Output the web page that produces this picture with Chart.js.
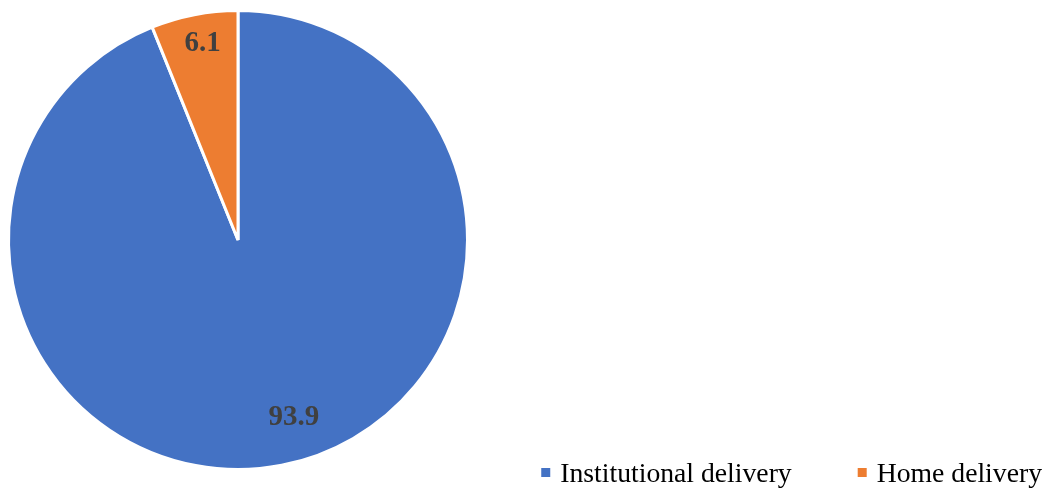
<!DOCTYPE html>
<html>
<head>
<meta charset="utf-8">
<style>
  html, body { margin: 0; padding: 0; background: #ffffff; }
  #wrap { width: 1056px; height: 489px; position: relative; }
</style>
<script src="https://cdn.jsdelivr.net/npm/chart.js@4/dist/chart.umd.min.js"></script>
</head>
<body>
<div id="wrap"><canvas id="pie" width="1056" height="489"></canvas></div>
<script>
// Place of delivery (%)
const categories = ['Institutional delivery', 'Home delivery'];
const shares = [93.9, 6.1];
const sliceColors = ['#4472C4', '#ED7D31'];

// Draws the value labels inside each slice
const sliceLabels = {
  id: 'sliceLabels',
  afterDatasetsDraw(chart, args, opts) {
    const ctx = chart.ctx;
    const meta = chart.getDatasetMeta(0);
    ctx.save();
    ctx.font = opts.font;
    ctx.fillStyle = opts.color;
    ctx.textAlign = 'center';
    ctx.textBaseline = 'middle';
    meta.data.forEach((arc, i) => {
      const p = arc.getProps(['x', 'y', 'startAngle', 'endAngle', 'outerRadius'], true);
      const mid = (p.startAngle + p.endAngle) / 2 + (opts.shift[i] || 0) * Math.PI / 180;
      const r = p.outerRadius * opts.radial[i];
      ctx.fillText(String(chart.data.datasets[0].data[i]), p.x + Math.cos(mid) * r, p.y + Math.sin(mid) * r);
    });
    ctx.restore();
  }
};

// Horizontal legend anchored at the lower right corner
const cornerLegend = {
  id: 'cornerLegend',
  afterDraw(chart, args, opts) {
    const ctx = chart.ctx;
    ctx.save();
    ctx.font = opts.font;
    ctx.textBaseline = 'alphabetic';
    const labels = chart.data.labels;
    const colors = chart.data.datasets[0].backgroundColor;
    const widths = labels.map(t => ctx.measureText(t).width);
    let total = 0;
    widths.forEach((w, i) => {
      total += opts.box + opts.boxGap + w;
      if (i < widths.length - 1) total += opts.itemGap;
    });
    let x = opts.right - total;
    labels.forEach((t, i) => {
      ctx.fillStyle = colors[i];
      ctx.fillRect(x, opts.baseline - opts.boxRise, opts.box, opts.box);
      x += opts.box + opts.boxGap;
      ctx.fillStyle = opts.color;
      ctx.fillText(t, x, opts.baseline);
      x += widths[i] + opts.itemGap;
    });
    ctx.restore();
  }
};

new Chart(document.getElementById('pie'), {
  type: 'pie',
  data: {
    labels: categories,
    datasets: [{
      data: shares,
      backgroundColor: sliceColors,
      borderColor: '#ffffff',
      borderWidth: 3
    }]
  },
  options: {
    responsive: false,
    animation: false,
    layout: { padding: { left: 7, right: 587, top: 9, bottom: 18 } },
    plugins: {
      legend: { display: false },
      tooltip: { enabled: false },
      sliceLabels: {
        font: 'bold 29px "Liberation Serif", "Times New Roman", serif',
        color: '#404040',
        radial: [0.81, 0.87],
        shift: [-6.5, 0.8]
      },
      cornerLegend: {
        font: '27.7px "Liberation Serif", "Times New Roman", serif',
        color: '#000000',
        right: 1042,
        baseline: 482,
        box: 9,
        boxRise: 14,
        boxGap: 10,
        itemGap: 66
      }
    }
  },
  plugins: [sliceLabels, cornerLegend]
});
</script>
</body>
</html>
